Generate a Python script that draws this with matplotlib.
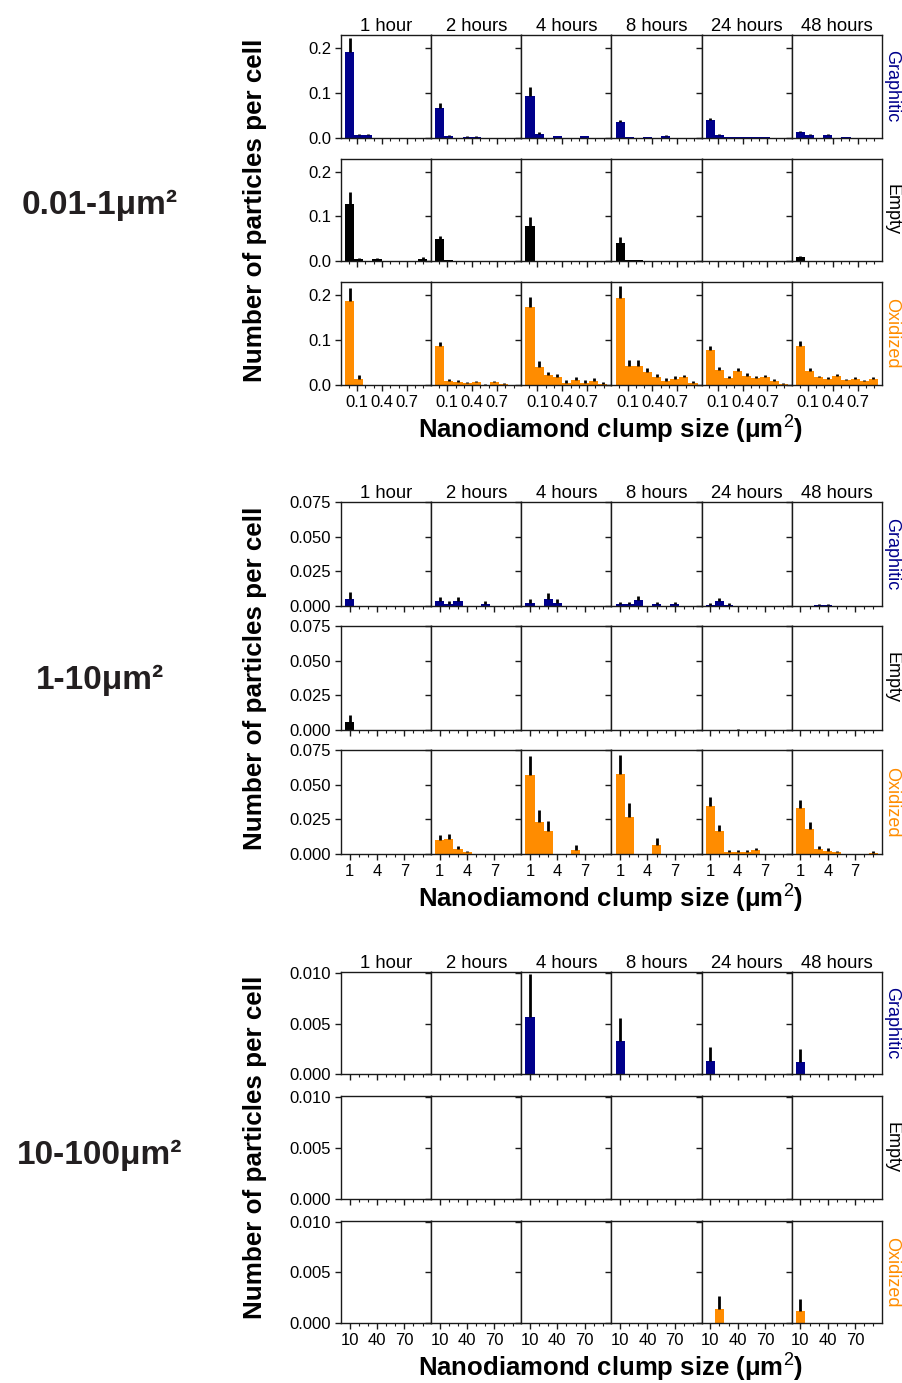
import numpy as np
import matplotlib.pyplot as plt
from matplotlib.ticker import MultipleLocator, FixedLocator

plt.rcParams['font.family'] = ['Liberation Sans', 'DejaVu Sans']
plt.rcParams['mathtext.fontset'] = 'custom'
plt.rcParams['mathtext.rm'] = 'Liberation Sans'
plt.rcParams['mathtext.bf'] = 'Liberation Sans:bold'

hours = ['1 hour', '2 hours', '4 hours', '8 hours', '24 hours', '48 hours']
types = ['Graphitic', 'Empty', 'Oxidized']
type_colors = ['#00008b', 'black', '#ff8c00']

# left bin edges of each size range
bins_small = [0.01, 0.12, 0.23, 0.34, 0.45, 0.56, 0.67, 0.78, 0.89]
bins_mid = [1, 2, 3, 4, 5, 6, 7, 8, 9]
bins_large = [10, 20, 30, 40, 50, 60, 70, 80, 90]

# ---- 0.01-1 um^2 : mean counts per cell (rows = hours) ----
g_small = [
    [0.192, 0.006, 0.006, 0, 0, 0, 0, 0, 0],
    [0.067, 0.004, 0, 0.002, 0.002, 0, 0, 0, 0],
    [0.094, 0.009, 0, 0.003, 0, 0, 0.003, 0, 0],
    [0.034, 0.001, 0, 0.001, 0, 0.004, 0, 0, 0],
    [0.039, 0.007, 0.001, 0.001, 0.001, 0.001, 0.001, 0, 0],
    [0.013, 0.007, 0, 0.007, 0, 0.001, 0, 0, 0],
]
g_small_err = [
    [0.030, 0.002, 0.002, 0, 0, 0, 0, 0, 0],
    [0.010, 0.001, 0, 0.001, 0.001, 0, 0, 0, 0],
    [0.018, 0.004, 0, 0.001, 0, 0, 0.001, 0, 0],
    [0.006, 0.001, 0, 0.001, 0, 0.002, 0, 0, 0],
    [0.005, 0.001, 0.001, 0.001, 0.001, 0.001, 0.001, 0, 0],
    [0.002, 0.001, 0, 0.001, 0, 0.001, 0, 0, 0],
]
e_small = [
    [0.128, 0.005, 0, 0.005, 0, 0, 0, 0, 0.006],
    [0.049, 0.002, 0, 0, 0, 0, 0, 0, 0],
    [0.079, 0, 0, 0, 0, 0, 0, 0, 0],
    [0.041, 0.003, 0.002, 0, 0, 0, 0, 0, 0],
    [0, 0, 0, 0, 0, 0, 0, 0, 0],
    [0.009, 0, 0, 0, 0, 0, 0, 0, 0],
]
e_small_err = [
    [0.027, 0.002, 0, 0.002, 0, 0, 0, 0, 0.003],
    [0.007, 0.001, 0, 0, 0, 0, 0, 0, 0],
    [0.020, 0, 0, 0, 0, 0, 0, 0, 0],
    [0.013, 0.001, 0.001, 0, 0, 0, 0, 0, 0],
    [0, 0, 0, 0, 0, 0, 0, 0, 0],
    [0.002, 0, 0, 0, 0, 0, 0, 0, 0],
]
o_small = [
    [0.187, 0.014, 0, 0, 0, 0, 0, 0, 0],
    [0.086, 0.010, 0.0075, 0.0045, 0.0075, 0.0005, 0.0075, 0.0025, 0],
    [0.173, 0.040, 0.022, 0.017, 0.005, 0.012, 0.005, 0.010, 0.002],
    [0.193, 0.043, 0.043, 0.029, 0.018, 0.010, 0.013, 0.017, 0.005],
    [0.077, 0.034, 0.016, 0.032, 0.021, 0.015, 0.018, 0.010, 0.002],
    [0.088, 0.032, 0.017, 0.014, 0.021, 0.011, 0.014, 0.008, 0.014],
]
o_small_err = [
    [0.030, 0.008, 0, 0, 0, 0, 0, 0, 0],
    [0.011, 0.004, 0.003, 0.002, 0.002, 0.001, 0.002, 0.002, 0],
    [0.024, 0.014, 0.008, 0.007, 0.006, 0.006, 0.006, 0.005, 0.004],
    [0.027, 0.012, 0.012, 0.009, 0.007, 0.005, 0.006, 0.006, 0.005],
    [0.011, 0.007, 0.005, 0.007, 0.005, 0.005, 0.004, 0.004, 0.003],
    [0.010, 0.005, 0.004, 0.004, 0.004, 0.003, 0.004, 0.003, 0.003],
]

# ---- 1-10 um^2 ----
g_mid = [
    [0.0053, 0, 0, 0, 0, 0, 0, 0, 0],
    [0.0036, 0.0017, 0.0036, 0, 0, 0.0017, 0, 0, 0],
    [0.0022, 0, 0.0053, 0.0024, 0, 0, 0, 0, 0],
    [0.0015, 0.0015, 0.0044, 0, 0.0015, 0, 0.0015, 0, 0],
    [0.0008, 0.0036, 0.0010, 0, 0, 0, 0, 0, 0],
    [0, 0, 0.0007, 0.0007, 0, 0, 0, 0, 0],
]
g_mid_err = [
    [0.0047, 0, 0, 0, 0, 0, 0, 0, 0],
    [0.0030, 0.0018, 0.0030, 0, 0, 0.0018, 0, 0, 0],
    [0.0032, 0, 0.0045, 0.0030, 0, 0, 0, 0, 0],
    [0.0014, 0.0014, 0.0032, 0, 0.0014, 0, 0.0014, 0, 0],
    [0.0012, 0.0025, 0.0010, 0, 0, 0, 0, 0, 0],
    [0, 0, 0.0010, 0.0010, 0, 0, 0, 0, 0],
]
e_mid = [
    [0.0058, 0, 0, 0, 0, 0, 0, 0, 0],
    [0, 0, 0, 0, 0, 0, 0, 0, 0],
    [0, 0, 0, 0, 0, 0, 0, 0, 0],
    [0, 0, 0, 0, 0, 0, 0, 0, 0],
    [0, 0, 0, 0.0003, 0, 0, 0, 0, 0],
    [0, 0, 0, 0, 0, 0, 0, 0, 0],
]
e_mid_err = [
    [0.0052, 0, 0, 0, 0, 0, 0, 0, 0],
    [0, 0, 0, 0, 0, 0, 0, 0, 0],
    [0, 0, 0, 0, 0, 0, 0, 0, 0],
    [0, 0, 0, 0, 0, 0, 0, 0, 0],
    [0, 0, 0, 0.0003, 0, 0, 0, 0, 0],
    [0, 0, 0, 0, 0, 0, 0, 0, 0],
]
o_mid = [
    [0, 0, 0, 0, 0, 0, 0, 0, 0],
    [0.0104, 0.0110, 0.0038, 0.0012, 0, 0, 0, 0, 0],
    [0.0567, 0.0234, 0.0169, 0, 0, 0.0031, 0, 0, 0],
    [0.0575, 0.0270, 0, 0, 0.0065, 0, 0, 0, 0],
    [0.0343, 0.0164, 0.0017, 0.0017, 0.0017, 0.0030, 0, 0, 0],
    [0.0328, 0.0183, 0.0038, 0.0024, 0.0012, 0, 0, 0, 0.0008],
]
o_mid_err = [
    [0, 0, 0, 0, 0, 0, 0, 0, 0],
    [0.0031, 0.0037, 0.0022, 0.0012, 0, 0, 0, 0, 0],
    [0.0136, 0.0086, 0.0071, 0, 0, 0.0036, 0, 0, 0],
    [0.0140, 0.0095, 0, 0, 0.0048, 0, 0, 0, 0],
    [0.0067, 0.0046, 0.0012, 0.0012, 0.0012, 0.0015, 0, 0, 0],
    [0.0062, 0.0047, 0.0017, 0.0016, 0.0012, 0, 0, 0, 0.0016],
]

# ---- 10-100 um^2 ----
g_large = [
    [0, 0, 0, 0, 0, 0, 0, 0, 0],
    [0, 0, 0, 0, 0, 0, 0, 0, 0],
    [0.0057, 0, 0, 0, 0, 0, 0, 0, 0],
    [0.0033, 0, 0, 0, 0, 0, 0, 0, 0],
    [0.00136, 0, 0, 0, 0, 0, 0, 0, 0],
    [0.0012, 0, 0, 0, 0, 0, 0, 0, 0],
]
g_large_err = [
    [0, 0, 0, 0, 0, 0, 0, 0, 0],
    [0, 0, 0, 0, 0, 0, 0, 0, 0],
    [0.0042, 0, 0, 0, 0, 0, 0, 0, 0],
    [0.0023, 0, 0, 0, 0, 0, 0, 0, 0],
    [0.0013, 0, 0, 0, 0, 0, 0, 0, 0],
    [0.0013, 0, 0, 0, 0, 0, 0, 0, 0],
]
e_large = [[0] * 9 for _ in range(6)]
e_large_err = [[0] * 9 for _ in range(6)]
o_large = [
    [0, 0, 0, 0, 0, 0, 0, 0, 0],
    [0, 0, 0, 0, 0, 0, 0, 0, 0],
    [0, 0, 0, 0, 0, 0, 0, 0, 0],
    [0, 0, 0, 0, 0, 0, 0, 0, 0],
    [0, 0.0014, 0, 0, 0, 0, 0, 0, 0],
    [0.0012, 0, 0, 0, 0, 0, 0, 0, 0],
]
o_large_err = [
    [0, 0, 0, 0, 0, 0, 0, 0, 0],
    [0, 0, 0, 0, 0, 0, 0, 0, 0],
    [0, 0, 0, 0, 0, 0, 0, 0, 0],
    [0, 0, 0, 0, 0, 0, 0, 0, 0],
    [0, 0.0013, 0, 0, 0, 0, 0, 0, 0],
    [0.0012, 0, 0, 0, 0, 0, 0, 0, 0],
]

range_labels = ['0.01-1\u03bcm\u00b2', '1-10\u03bcm\u00b2', '10-100\u03bcm\u00b2']

W, H = 903, 1383
fig = plt.figure(figsize=(W / 100, H / 100), dpi=100)

LEFT, RIGHT = 341 / W, 882 / W
spine_col = '#1a1a1a'


def draw_block(top_px, bot_px, hspace, bins, width, data, errs, ylim, yticks,
               yticklabels, xticks, xticklabels, minor, label, label_y):
    gs = fig.add_gridspec(3, 6, left=LEFT, right=RIGHT, top=1 - top_px / H,
                          bottom=1 - bot_px / H, hspace=hspace, wspace=0)
    lo = bins[0] - width / 2
    hi = bins[-1] + width / 2
    pad = 0.05 * (hi - lo)
    for r in range(3):
        for c in range(6):
            ax = fig.add_subplot(gs[r, c])
            m = np.array(data[r][c], dtype=float)
            e = np.array(errs[r][c], dtype=float)
            ax.bar(bins, m, width=width, color=type_colors[r], linewidth=0, zorder=2)
            ax.errorbar(bins, m, yerr=[np.zeros_like(e), e], fmt='none',
                        ecolor='black', elinewidth=2.0, capsize=0, zorder=3)
            ax.set_xlim(lo - pad, hi + pad)
            ax.set_ylim(*ylim)
            ax.xaxis.set_major_locator(FixedLocator(xticks))
            ax.xaxis.set_minor_locator(MultipleLocator(minor))
            ax.yaxis.set_major_locator(FixedLocator(yticks))
            ax.tick_params(axis='both', which='major', direction='out', length=4,
                           width=1, color=spine_col, labelsize=12, pad=3)
            ax.tick_params(axis='x', which='minor', direction='out', length=1.8,
                           width=0.8, color=spine_col)
            if r == 2:
                ax.set_xticklabels(xticklabels)
            else:
                ax.set_xticklabels([])
            if c == 0:
                ax.set_yticklabels(yticklabels)
            else:
                ax.set_yticklabels([])
            for s in ax.spines.values():
                s.set_linewidth(1.0)
                s.set_color(spine_col)
            if r == 0:
                ax.set_title(hours[c], fontsize=13.3, pad=3)
            if c == 5:
                ax.text(1.018, 0.5, types[r], transform=ax.transAxes, rotation=270,
                        ha='left', va='center', fontsize=13, color=type_colors[r])
    mid = (top_px + bot_px) / 2
    fig.text(255 / W, 1 - mid / H, 'Number of particles per cell', rotation=90,
             ha='center', va='center', fontsize=18.7, fontweight='bold')
    fig.text(611 / W, 1 - (bot_px + 53) / H, r'Nanodiamond clump size (μm$^2$)',
             ha='center', va='baseline', fontsize=18.5, fontweight='bold')
    fig.text(100 / W, 1 - label_y / H, label, ha='center', va='center',
             fontsize=24, fontweight='bold', color='#231f20')


draw_block(35, 385, 0.205, bins_small, 0.11,
           [g_small, e_small, o_small], [g_small_err, e_small_err, o_small_err],
           (0, 0.229), [0, 0.1, 0.2], ['0.0', '0.1', '0.2'],
           [0.1, 0.4, 0.7], ['0.1', '0.4', '0.7'], 0.1, range_labels[0], 205)
draw_block(502, 854, 0.19, bins_mid, 1.0,
           [g_mid, e_mid, o_mid], [g_mid_err, e_mid_err, o_mid_err],
           (0, 0.075), [0, 0.025, 0.05, 0.075], ['0.000', '0.025', '0.050', '0.075'],
           [1, 4, 7], ['1', '4', '7'], 1, range_labels[1], 680)
draw_block(972, 1323, 0.215, bins_large, 10.0,
           [g_large, e_large, o_large], [g_large_err, e_large_err, o_large_err],
           (0, 0.0101), [0, 0.005, 0.010], ['0.000', '0.005', '0.010'],
           [10, 40, 70], ['10', '40', '70'], 10, range_labels[2], 1155)

fig.savefig('out.png', dpi=100)
